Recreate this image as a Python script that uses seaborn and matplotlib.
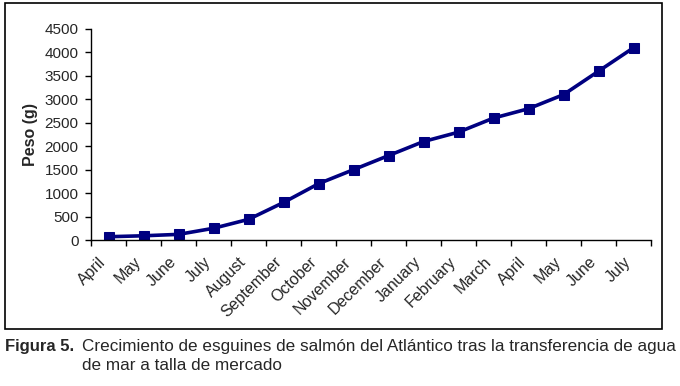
import matplotlib
matplotlib.use("Agg")
import matplotlib.pyplot as plt
import matplotlib.transforms as mtransforms
import seaborn as sns
import pandas as pd
from matplotlib.patches import Rectangle

months = ["April", "May", "June", "July", "August", "September", "October",
          "November", "December", "January", "February", "March", "April",
          "May", "June", "July"]
peso = [70, 90, 120, 250, 440, 800, 1200, 1500, 1800, 2100, 2300, 2600,
        2800, 3100, 3600, 4100]
yticks = [0, 500, 1000, 1500, 2000, 2500, 3000, 3500, 4000, 4500]

sns.set_style("white")
plt.rcParams['font.family'] = ['Liberation Sans', 'DejaVu Sans']

df = pd.DataFrame({"idx": list(range(len(months))), "peso": peso})

W, H = 680, 386
fig = plt.figure(figsize=(W / 100, H / 100), dpi=100)
ax = fig.add_axes([91 / W, 1 - 240 / H, (651 - 91) / W, (240 - 29) / H])

sns.lineplot(data=df, x="idx", y="peso", ax=ax, color="#000080",
             linewidth=2.6, marker="s", markersize=7,
             markeredgecolor="#000080", markerfacecolor="#000080")

ax.set_xlim(-0.5, len(months) - 0.5)
ax.set_ylim(0, 4500)
ax.set_yticks(yticks)
ax.set_yticklabels([str(v) for v in yticks], fontsize=11)
ax.set_xticks(list(range(len(months))))
ax.set_xticklabels(months, fontsize=11.5, rotation=45, ha="right",
                   rotation_mode="anchor")
ax.tick_params(axis="x", length=0, pad=14)
offset = mtransforms.ScaledTranslation(-10 / 100, 5 / 100, fig.dpi_scale_trans)
for lab in ax.get_xticklabels():
    lab.set_transform(lab.get_transform() + offset)
ax.tick_params(axis="y", length=4, width=1, color="black", direction="out",
               left=True, pad=5)
# tick marks between categories on x-axis
ax.set_xticks([i + 0.5 for i in range(-1, len(months))], minor=True)
ax.tick_params(axis="x", which="minor", length=4, width=1, color="black",
               direction="out", bottom=True)
ax.set_xlabel("")
ax.set_ylabel("Peso (g)", fontsize=11.5, fontweight="bold")
ax.yaxis.set_label_coords((38 - 91) / 560, 0.5)
for s in ["top", "right"]:
    ax.spines[s].set_visible(False)
for s in ["left", "bottom"]:
    ax.spines[s].set_color("black")
    ax.spines[s].set_linewidth(1)

# outer frame
fig.patches.append(Rectangle((5 / W, 1 - 329 / H), (662 - 5) / W, (329 - 3) / H,
                             transform=fig.transFigure, fill=False,
                             edgecolor="black", linewidth=1.2))

fig.text(5 / W, 1 - 351 / H, "Figura 5.", fontsize=12, fontweight="bold",
         va="baseline", ha="left")
fig.text(82 / W, 1 - 351 / H,
         "Crecimiento de esguines de salmón del Atlántico tras la transferencia de agua",
         fontsize=12.3, va="baseline", ha="left")
fig.text(82 / W, 1 - 370 / H, "de mar a talla de mercado", fontsize=12.3,
         va="baseline", ha="left")

fig.savefig("out.png", dpi=100)
